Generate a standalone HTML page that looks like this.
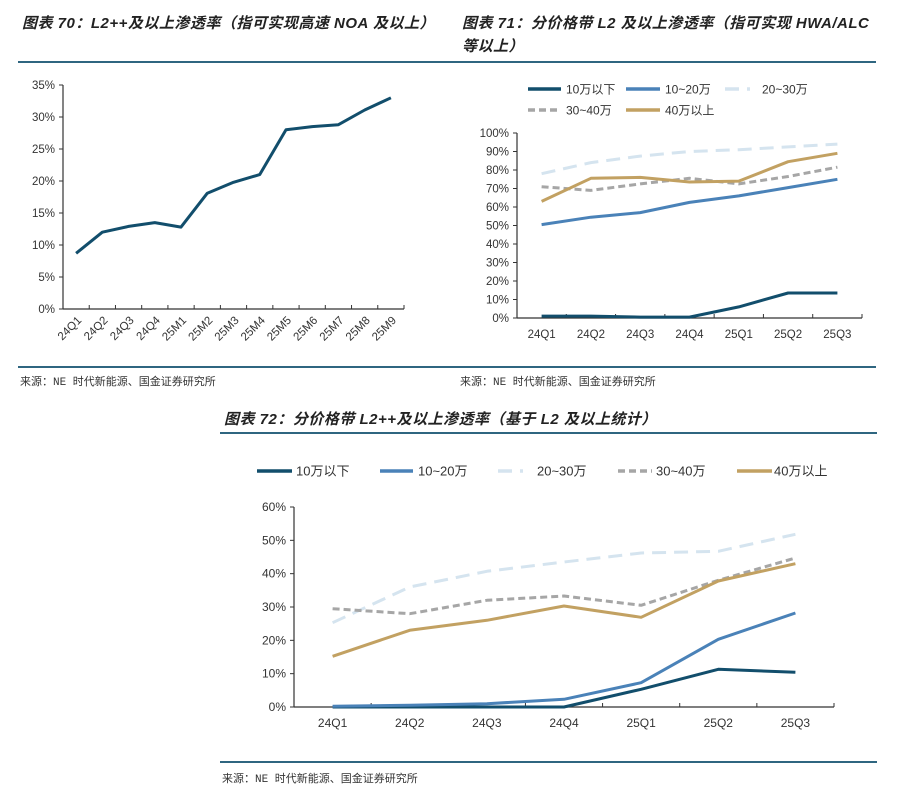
<!DOCTYPE html>
<html><head><meta charset="utf-8">
<style>
body{margin:0;background:#fff;width:907px;height:796px;overflow:hidden;position:relative;font-family:"Liberation Sans","Noto Sans CJK SC",sans-serif;}
.t{position:absolute;font-style:italic;font-weight:bold;font-size:15px;color:#222;letter-spacing:0.5px;}
.rule{position:absolute;height:1.5px;background:#2f6680;}
.src{position:absolute;font-size:11px;color:#333;font-family:"Liberation Mono","Noto Sans CJK SC",monospace;}
svg{position:absolute;left:0;top:0;}
text{font-family:"Liberation Sans","Noto Sans CJK SC",sans-serif;fill:#333;}
</style></head><body>
<div class="t" style="left:22px;top:12px;">图表 70：L2++及以上渗透率（指可实现高速 NOA 及以上）</div>
<div class="rule" style="left:18px;top:61px;width:432px;"></div>
<div class="rule" style="left:18px;top:366px;width:432px;"></div>
<div class="src" style="left:20px;top:373px;">来源：NE 时代新能源、国金证券研究所</div>

<div class="t" style="left:462px;top:12px;width:420px;line-height:23px;">图表 71：分价格带 L2 及以上渗透率（指可实现 HWA/ALC 等以上）</div>
<div class="rule" style="left:450px;top:61px;width:426px;"></div>
<div class="rule" style="left:450px;top:366px;width:426px;"></div>
<div class="src" style="left:460px;top:373px;">来源：NE 时代新能源、国金证券研究所</div>

<div class="t" style="left:224px;top:408px;">图表 72：分价格带 L2++及以上渗透率（基于 L2 及以上统计）</div>
<div class="rule" style="left:220px;top:432px;width:657px;"></div>
<div class="rule" style="left:220px;top:761px;width:657px;"></div>
<div class="src" style="left:222px;top:770px;">来源：NE 时代新能源、国金证券研究所</div>

<svg id="s" width="907" height="796"></svg>
<script>
const c70Cats=["24Q1","24Q2","24Q3","24Q4","25M1","25M2","25M3","25M4","25M5","25M6","25M7","25M8","25M9"];
const c70Vals=[8.7,12,12.9,13.5,12.8,18.1,19.8,21,28,28.5,28.8,31.1,33];
const c70Ticks=[0,5,10,15,20,25,30,35];

const qCats=["24Q1","24Q2","24Q3","24Q4","25Q1","25Q2","25Q3"];
const seriesNames=["10万以下","10~20万","20~30万","30~40万","40万以上"];
const c71Below10=[1,1,0.5,0.5,6,13.5,13.5];
const c71B10to20=[50.5,54.5,57,62.5,66,70.5,75];
const c71B20to30=[78,84,87.5,90,91,92.5,94];
const c71B30to40=[71,69,72.5,75.5,72.5,76.5,81.5];
const c71Above40=[63,75.5,76,73.5,74,84.5,89];
const c71Ticks=[0,10,20,30,40,50,60,70,80,90,100];

const c72Below10=[0,0,0,0,5.3,11.3,10.4];
const c72B10to20=[0.2,0.5,1,2.3,7.3,20.3,28.2];
const c72B20to30=[25.3,36,40.7,43.5,46.2,46.7,51.8];
const c72B30to40=[29.5,28,32,33.3,30.5,38,44.7];
const c72Above40=[15.2,23,26,30.3,26.9,37.8,43];
const c72Ticks=[0,10,20,30,40,50,60];

const styles=[
 {c:"#124e6c",d:null,w:3},
 {c:"#4a82b8",d:null,w:3},
 {c:"#d5e4ef",d:"14,8",w:3},
 {c:"#a6a6a6",d:"7,4",w:3},
 {c:"#c2a162",d:null,w:3}];

const svg=document.getElementById('s');
const NS="http://www.w3.org/2000/svg";
function mk(tag,attrs,name){const e=document.createElementNS(NS,tag);for(const k in attrs)e.setAttribute(k,attrs[k]);
 
 
 svg.appendChild(e);return e;}

function axes(cfg,cats,ticks,prefix){
 const {x0,x1,y0,y1,max,rot,fs}=cfg;
 const band=(x1-x0)/cats.length;
 const X=i=>x0+band*(i+0.5);
 const Y=v=>y0-(v/max)*(y0-y1);
 mk('line',{x1:x0,y1:y0,x2:x1,y2:y0,stroke:"#333","stroke-width":1.2},prefix+'-x-axis');
 mk('line',{x1:x0,y1:y0,x2:x0,y2:y1,stroke:"#333","stroke-width":1.2},prefix+'-y-axis');
 ticks.forEach(t=>{
  mk('line',{x1:x0-4,y1:Y(t),x2:x0,y2:Y(t),stroke:"#333"},prefix+'-y-tick');
  const tx=mk('text',{x:x0-8,y:Y(t)+4,"text-anchor":"end","font-size":fs},prefix+'-y-tick-label');tx.textContent=t+"%";
 });
 for(let i=0;i<=cats.length;i++){const xx=x0+band*i;mk('line',{x1:xx,y1:y0,x2:xx,y2:y0-4,stroke:"#333"},prefix+'-x-tick');}
 cats.forEach((c,i)=>{
  let t;
  if(rot){t=mk('text',{x:X(i)+6,y:y0+12,"text-anchor":"end","font-size":fs,transform:`rotate(-45 ${X(i)+6} ${y0+12})`},prefix+'-x-tick-label');}
  else t=mk('text',{x:X(i),y:y0+20,"text-anchor":"middle","font-size":fs},prefix+'-x-tick-label');
  t.textContent=c;});
 return {X,Y};
}
function line(vals,X,Y,st,name){
 const p=vals.map((v,i)=>X(i).toFixed(1)+","+Y(v).toFixed(1)).join(" ");
 const a={points:p,fill:"none",stroke:st.c,"stroke-width":st.w,"stroke-linejoin":"round"};
 if(st.d)a["stroke-dasharray"]=st.d;
 mk('polyline',a,name);
}
function legend(items,name,fs){
 items.forEach(it=>{
  const st=styles[it.s];const a={x1:it.x,y1:it.y,x2:it.x+it.l,y2:it.y,stroke:st.c,"stroke-width":3.5};
  if(st.d)a["stroke-dasharray"]=st.d;
  mk('line',a,name+'-swatch');
  const t=mk('text',{x:it.tx,y:it.y+4.5,"font-size":fs||12},name+'-label');t.textContent=seriesNames[it.s];
 });
}

// chart 70
let a=axes({x0:63,x1:404,y0:309,y1:85,max:35,rot:true,fs:11.5},c70Cats,c70Ticks,'chart70');
line(c70Vals,a.X,a.Y,{c:"#124e6c",w:3},'chart70-line');

// chart 71
a=axes({x0:517,x1:862,y0:318,y1:133,max:100,rot:false,fs:11.5},qCats,c71Ticks,'chart71');
[c71Below10,c71B10to20,c71B20to30,c71B30to40,c71Above40].forEach((v,i)=>line(v,a.X,a.Y,styles[i],'chart71-series-'+i));
legend([{s:0,x:528,l:33,tx:566,y:89},{s:1,x:626,l:34,tx:665,y:89},{s:2,x:725,l:25,tx:762,y:89},
 {s:3,x:528,l:33,tx:566,y:110},{s:4,x:626,l:34,tx:665,y:110}],'chart71-legend');

// chart 72
a=axes({x0:294,x1:834,y0:707,y1:507,max:60,rot:false,fs:12},qCats,c72Ticks,'chart72');
[c72Below10,c72B10to20,c72B20to30,c72B30to40,c72Above40].forEach((v,i)=>line(v,a.X,a.Y,styles[i],'chart72-series-'+i));
legend([{s:0,x:257,l:35,tx:296,y:471},{s:1,x:380,l:33,tx:418,y:471},{s:2,x:498,l:25,tx:537,y:471},
 {s:3,x:618,l:34,tx:656,y:471},{s:4,x:737,l:35,tx:774,y:471}],'chart72-legend',13);
</script>
</body></html>
